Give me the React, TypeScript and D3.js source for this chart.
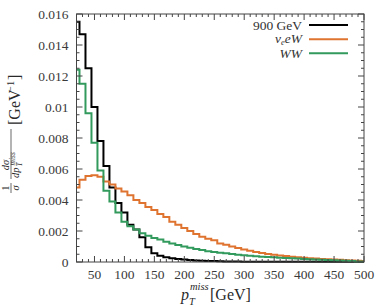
import * as d3 from 'd3';
import { useEffect, useRef } from 'react';

// bin centres of the p_T^miss histogram (GeV), 10 GeV wide
const binCenters = [
  20, 30, 40, 50, 60, 70, 80, 90, 100, 110, 120, 130, 140, 150, 160, 170, 180, 190, 200, 210,
  220, 230, 240, 250, 260, 270, 280, 290, 300, 310, 320, 330, 340, 350, 360, 370, 380, 390, 400,
  410, 420, 430, 440, 450, 460, 470, 480, 490, 500
];

const gev900 = [
  0.0155, 0.0147, 0.0125, 0.01, 0.0078, 0.0062, 0.0048, 0.0038, 0.0032, 0.0024, 0.0021, 0.0016,
  0.00095, 0.00056, 0.0004, 0.0003, 0.00024, 0.0002, 0.00016, 0.00013, 0.0001, 0.00008, 0.00007,
  0.00006, 0.00005, 0.00004, 0.00003, 0.00003, 0.00002, 0.00002, 0.00002, 0.00002, 0.00001,
  0.00001, 0.00001, 0.00001, 0.00001, 0.00001, 0.00001, 0.00001, 0.00001, 0.00001, 0.00001,
  0.00001, 0.00001, 0.00001, 0.00001, 0.00001, 0.00001
];

const nueW = [
  0.0048, 0.0053, 0.00555, 0.0056, 0.0055, 0.0052, 0.005, 0.00475, 0.00455, 0.0043, 0.004, 0.0038,
  0.00355, 0.00335, 0.0031, 0.0029, 0.0026, 0.0024, 0.0022, 0.002, 0.0018, 0.00163, 0.0015, 0.0014,
  0.0012, 0.00112, 0.001, 0.0009, 0.0008, 0.00072, 0.00064, 0.00058, 0.00052, 0.00046, 0.00042,
  0.00038, 0.00034, 0.0003, 0.00027, 0.00024, 0.00022, 0.0002, 0.00018, 0.00016, 0.00014, 0.00012,
  0.0001, 0.00008, 0.00006
];

const ww = [
  0.0124, 0.0115, 0.0096, 0.0077, 0.0059, 0.0046, 0.0039, 0.0032, 0.0026, 0.0023, 0.0021, 0.00185,
  0.0017, 0.00155, 0.00145, 0.0013, 0.0012, 0.0011, 0.001, 0.00092, 0.00084, 0.00077, 0.0007,
  0.00065, 0.0006, 0.00056, 0.00051, 0.00047, 0.00043, 0.0004, 0.00037, 0.00034, 0.00032, 0.0003,
  0.00028, 0.00026, 0.00024, 0.00022, 0.0002, 0.00018, 0.00016, 0.00015, 0.00013, 0.00012, 0.0001,
  0.00008, 0.00006, 0.00004, 0.00003
];

const xMajor = [50, 100, 150, 200, 250, 300, 350, 400, 450, 500];
const yMajor = [0, 0.002, 0.004, 0.006, 0.008, 0.01, 0.012, 0.014, 0.016];
const yLabels = ['0', '0.002', '0.004', '0.006', '0.008', '0.01', '0.012', '0.014', '0.016'];

const series = [
  { name: '900', values: gev900, color: '#000000' },
  { name: 'nueW', values: nueW, color: '#df7430' },
  { name: 'WW', values: ww, color: '#329a5c' }
];

const font = "'Liberation Serif', 'DejaVu Serif', serif";

export default function App() {
  const ref = useRef<SVGSVGElement>(null);

  useEffect(() => {
    const svg = d3.select(ref.current);
    svg.selectAll('*').remove();

    const margin = { left: 76.5, right: 364, top: 14, bottom: 262 };
    const x = d3.scaleLinear().domain([20, 500]).range([margin.left, margin.right]);
    const y = d3.scaleLinear().domain([0, 0.016]).range([margin.bottom, margin.top]);

    // histograms
    const line = d3
      .line<[number, number]>()
      .x((d) => x(d[0]))
      .y((d) => y(d[1]));

    const plot = svg.append('g');
    series.forEach((s) => {
      const pts: [number, number][] = [];
      binCenters.forEach((c, i) => {
        const lo = Math.max(20, c - 5);
        const hi = Math.min(500, c + 5);
        pts.push([lo, s.values[i]]);
        pts.push([hi, s.values[i]]);
      });
      plot
        .append('path')
        .attr('d', line(pts))
        .attr('fill', 'none')
        .attr('stroke', s.color)
        .attr('stroke-width', 2)
        .attr('stroke-linejoin', 'miter');
    });

    // frame + ticks
    const axes = svg.append('g').attr('stroke', '#444').attr('stroke-width', 1);
    axes
      .append('rect')
      .attr('x', margin.left)
      .attr('y', margin.top)
      .attr('width', margin.right - margin.left)
      .attr('height', margin.bottom - margin.top)
      .attr('fill', 'none');

    const xMinor = d3.range(30, 500, 10).filter((v) => v % 50 !== 0);
    const yMinor = d3.range(0, 0.0161, 0.0005).filter((_, i) => i % 4 !== 0);

    const xt = (v: number, len: number) => {
      axes.append('line').attr('x1', x(v)).attr('x2', x(v)).attr('y1', margin.bottom).attr('y2', margin.bottom - len);
      axes.append('line').attr('x1', x(v)).attr('x2', x(v)).attr('y1', margin.top).attr('y2', margin.top + len);
    };
    const yt = (v: number, len: number) => {
      axes.append('line').attr('y1', y(v)).attr('y2', y(v)).attr('x1', margin.left).attr('x2', margin.left + len);
      axes.append('line').attr('y1', y(v)).attr('y2', y(v)).attr('x1', margin.right).attr('x2', margin.right - len);
    };
    xMajor.forEach((v) => xt(v, 6));
    xMinor.forEach((v) => xt(v, 3));
    yMajor.forEach((v) => yt(v, 6));
    yMinor.forEach((v) => yt(v, 3));

    // tick labels
    const labels = svg.append('g').style('font-family', font).style('font-size', '13.5px').attr('fill', '#3a3a3a');
    labels
      .selectAll('.xl')
      .data(xMajor)
      .join('text')
      .attr('x', (d) => x(d))
      .attr('y', 279)
      .attr('text-anchor', 'middle')
      .text((d) => d);
    labels
      .selectAll('.yl')
      .data(yMajor)
      .join('text')
      .attr('x', 68.5)
      .attr('y', (d) => y(d) + 4.5)
      .attr('text-anchor', 'end')
      .text((_, i) => yLabels[i]);

    // legend
    const legendRows = [25, 39.3, 53.3];
    series.forEach((s, i) => {
      svg
        .append('line')
        .attr('x1', 309)
        .attr('x2', 348)
        .attr('y1', legendRows[i])
        .attr('y2', legendRows[i])
        .attr('stroke', s.color)
        .attr('stroke-width', 2);
    });
    const leg = svg.append('g').style('font-family', font).style('font-size', '13.5px').attr('fill', '#333');
    leg.append('text').attr('x', 302).attr('y', legendRows[0] + 4.5).attr('text-anchor', 'end').text('900 GeV');
    const t2 = leg.append('text').attr('x', 302).attr('y', legendRows[1] + 4).attr('text-anchor', 'end');
    t2.append('tspan').style('font-style', 'italic').text('ν');
    t2.append('tspan').style('font-style', 'italic').style('font-size', '8.5px').attr('dy', 1.8).text('e');
    t2.append('tspan').style('font-style', 'italic').attr('dy', -1.8).text('eW');
    leg
      .append('text')
      .attr('x', 302)
      .attr('y', legendRows[2] + 4.5)
      .attr('text-anchor', 'end')
      .style('font-style', 'italic')
      .text('WW');

    // x label
    const xl = svg.append('g').style('font-family', font).attr('fill', '#2a2a2a');
    xl.append('text').attr('x', 181).attr('y', 300).style('font-size', '16px').style('font-style', 'italic').text('p');
    xl.append('text').attr('x', 189).attr('y', 304.5).style('font-size', '10.5px').style('font-style', 'italic').text('T');
    xl.append('text').attr('x', 190).attr('y', 290).style('font-size', '10.5px').style('font-style', 'italic').text('miss');
    xl.append('text').attr('x', 210).attr('y', 300).style('font-size', '16px').text('[GeV]');

    // y label (rotated)
    const yl = svg
      .append('g')
      .attr('transform', 'translate(20,193) rotate(-90)')
      .style('font-family', font)
      .attr('fill', '#2a2a2a');
    // 1 / sigma
    yl.append('text').attr('x', 5).attr('y', -11.5).style('font-size', '10.5px').attr('text-anchor', 'middle').text('1');
    yl.append('line').attr('x1', 0).attr('x2', 10).attr('y1', -9).attr('y2', -9).attr('stroke', '#2a2a2a').attr('stroke-width', 0.7);
    yl.append('text').attr('x', 5).attr('y', -1.5).style('font-size', '10.5px').style('font-style', 'italic').attr('text-anchor', 'middle').text('σ');
    // d sigma / d p_T^miss
    yl.append('text').attr('x', 28).attr('y', -11.5).style('font-size', '10.5px').style('font-style', 'italic').attr('text-anchor', 'middle').text('dσ');
    yl.append('line').attr('x1', 14).attr('x2', 64).attr('y1', -9).attr('y2', -9).attr('stroke', '#2a2a2a').attr('stroke-width', 0.7);
    yl.append('text').attr('x', 15).attr('y', -1.5).style('font-size', '10.5px').style('font-style', 'italic').text('dp');
    yl.append('text').attr('x', 26.5).attr('y', 2).style('font-size', '7.5px').style('font-style', 'italic').text('T');
    yl.append('text').attr('x', 27.5).attr('y', -5.2).style('font-size', '7.5px').style('font-style', 'italic').text('miss');
    // [GeV^-1]
    yl.append('text').attr('x', 68).attr('y', 0).style('font-size', '16px').text('[GeV');
    yl.append('text').attr('x', 101).attr('y', -6).style('font-size', '10.5px').text('−1');
    yl.append('text').attr('x', 113).attr('y', 0).style('font-size', '16px').text(']');
  }, []);

  return (
    <svg
      ref={ref}
      width={390}
      height={307}
      style={{ position: 'absolute', left: 0, top: 0, background: '#fff' }}
    />
  );
}
